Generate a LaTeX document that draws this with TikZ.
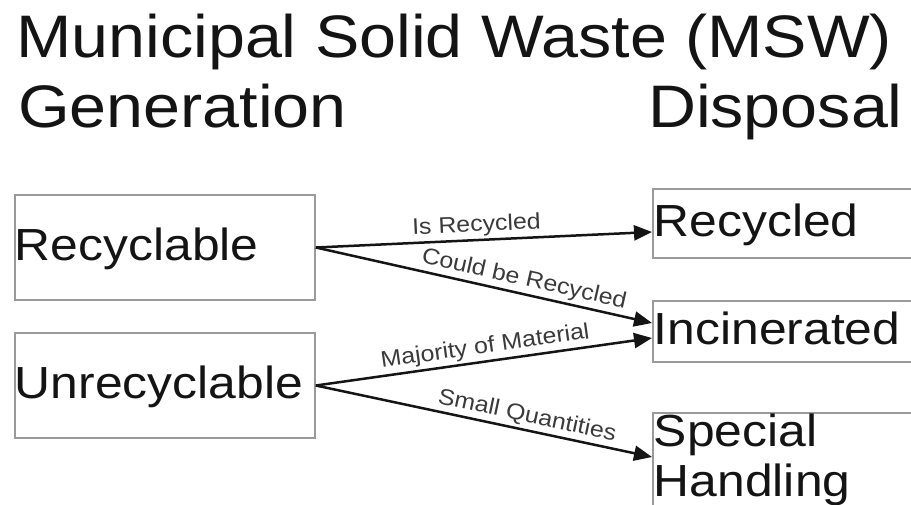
\documentclass[tikz,border=0pt]{standalone}
\usepackage{fontspec}
\setmainfont{Liberation Sans}
\usepackage{graphicx}
\usetikzlibrary{arrows.meta}
\definecolor{boxgray}{HTML}{9A9A9A}
\definecolor{inkdark}{HTML}{141414}
\definecolor{labelgray}{HTML}{3A3A3A}
\newcommand{\stretchx}[1]{\scalebox{1.107}[1]{#1}}

\begin{document}
\begin{tikzpicture}[x=1pt,y=-1pt,
  every node/.style={inner sep=0pt,text=inkdark},
  titletext/.style={font=\fontsize{60}{66}\selectfont},
  wastebox/.style={draw=boxgray,line width=1.7pt,font=\fontsize{45}{50}\selectfont,
    text width=300pt,align=left},
  oneline/.style={text height=35pt,text depth=9pt},
  flow/.style={draw=inkdark,line width=2.5pt,-{Triangle[length=18pt,width=15pt]}},
  flowlabel/.style={font=\fontsize{22.5}{25}\selectfont,text=labelgray,sloped,above,inner sep=2.5pt}]
  \useasboundingbox (0,0) rectangle (911,504);
  \clip (0,0) rectangle (911,504);
  \node[titletext,anchor=base west] (ttl) at (16,57) {\stretchx{Municipal Solid Waste (MSW)}};
  \node[titletext,anchor=base west] (gen) at (18,127) {\stretchx{Generation}};
  \node[titletext,anchor=base east] (dsp) at (903,127) {\stretchx{Disposal}};

  \node[wastebox,oneline,minimum height=105pt] (rcy) at (165,247.5) {\stretchx{Recyclable}};
  \node[wastebox,oneline,minimum height=105pt] (urc) at (165,385.5) {\stretchx{Unrecyclable}};
  \node[wastebox,oneline,anchor=west,inner xsep=1pt,minimum height=69pt] (rcd) at (652,223.5) {\stretchx{Recycled}};
  \node[wastebox,oneline,anchor=west,inner xsep=1pt,minimum height=61pt] (inc) at (652,331.5) {\stretchx{Incinerated}};
  \node[wastebox,anchor=north west,inner xsep=1pt,inner ysep=1pt] (spc) at (652,412)
    {\stretchx{Special}\\\stretchx{Handling}\rule[-40pt]{0pt}{0pt}};

  \draw[flow] (rcy.east) -- node[flowlabel,pos=0.48] (lblis) {\stretchx{Is Recycled}} ([yshift=-8.5pt]rcd.west);
  \draw[flow] (rcy.east) -- node[flowlabel,pos=0.61] (lblcould) {\stretchx{Could be Recycled}} ([yshift=8.5pt]inc.west);
  \draw[flow] (urc.east) -- node[flowlabel,pos=0.51] (lblmaj) {\stretchx{Majority of Material}} ([yshift=-6.5pt]inc.west);
  \draw[flow] (urc.east) -- node[flowlabel,pos=0.62] (lblsmall) {\stretchx{Small Quantities}} ([yshift=-45pt]spc.north west);
\end{tikzpicture}
\end{document}
